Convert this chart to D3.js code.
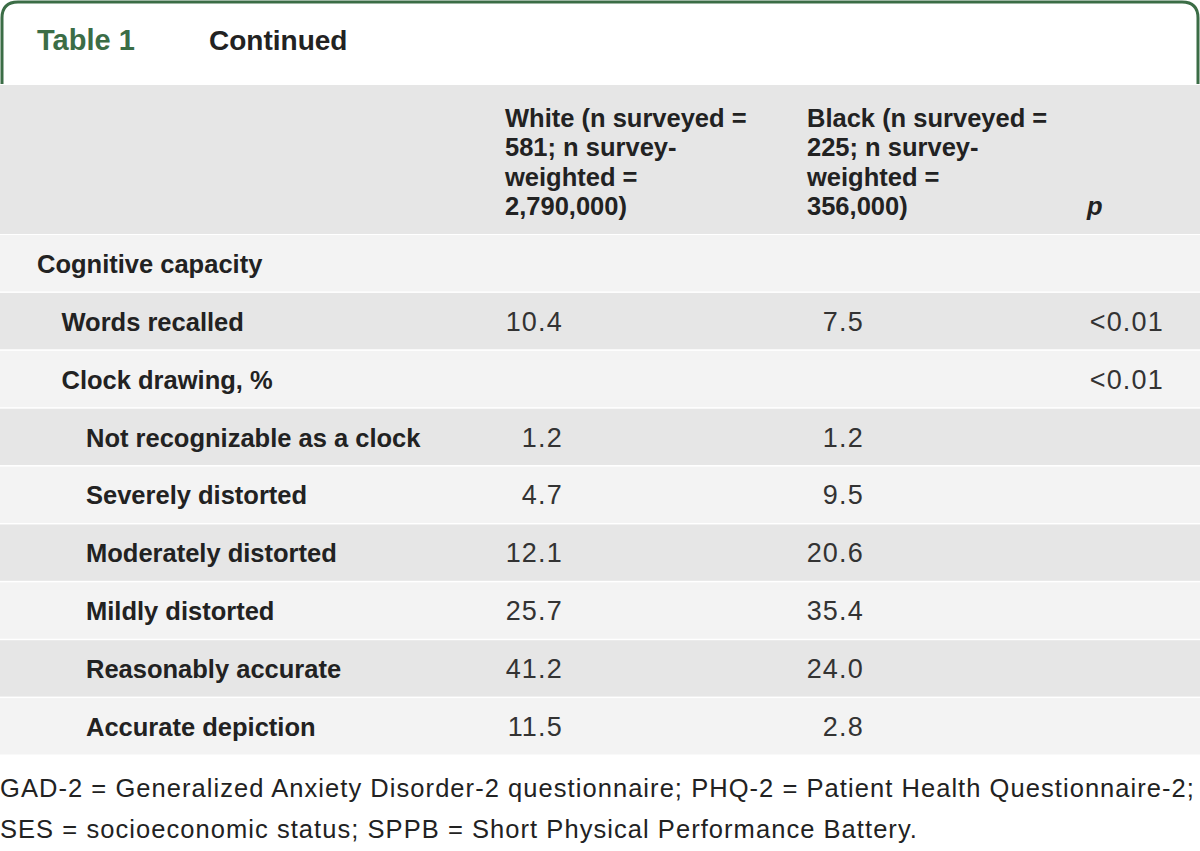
<!DOCTYPE html>
<html>
<head>
<meta charset="utf-8">
<script src="https://cdn.jsdelivr.net/npm/d3@7"></script>
<style>
    body { margin: 0; background: #fff; }
    svg { display: block; }
    text { font-family: "Liberation Sans", Arial, sans-serif; }
</style>
</head>
<body>
<svg id="chart" width="1200" height="851"></svg>
<script>
/* Table 1 (continued) - cognitive capacity by race */

const title = "Table 1";
const subtitle = "Continued";

const headerWhite = ["White (n surveyed =", "581; n survey-", "weighted =", "2,790,000)"];
const headerBlack = ["Black (n surveyed =", "225; n survey-", "weighted =", "356,000)"];
const headerP = "p";

const rowLabels = [
    "Cognitive capacity",
    "Words recalled",
    "Clock drawing, %",
    "Not recognizable as a clock",
    "Severely distorted",
    "Moderately distorted",
    "Mildly distorted",
    "Reasonably accurate",
    "Accurate depiction"
];
const rowLevels = [0, 1, 1, 2, 2, 2, 2, 2, 2];
const whiteValues = [null, 10.4, null, 1.2, 4.7, 12.1, 25.7, 41.2, 11.5];
const blackValues = [null, 7.5, null, 1.2, 9.5, 20.6, 35.4, 24.0, 2.8];
const pValues = ["", "<0.01", "<0.01", "", "", "", "", "", ""];

const footnotes = [
    "GAD-2 = Generalized Anxiety Disorder-2 questionnaire; PHQ-2 = Patient Health Questionnaire-2;",
    "SES = socioeconomic status; SPPB = Short Physical Performance Battery."
];

const width = 1200;
const svg = d3.select("#chart");

const green = "#3b6d46";
const ink = "#222";
const dark = "#e6e6e6";
const light = "#f3f3f3";

// frame with rounded top corners
svg.append("path")
    .attr("d", "M2,84 V18 Q2,2 18,2 H1182 Q1198,2 1198,18 V84")
    .attr("fill", "none")
    .attr("stroke", green)
    .attr("stroke-width", 3);

svg.append("text")
    .attr("x", 37).attr("y", 50)
    .attr("font-size", 29).attr("font-weight", 700)
    .attr("fill", green)
    .text(title);

svg.append("text")
    .attr("x", 209).attr("y", 50)
    .attr("font-size", 28).attr("font-weight", 700)
    .attr("fill", ink)
    .text(subtitle);

// header band
svg.append("rect")
    .attr("x", 0).attr("y", 85)
    .attr("width", width).attr("height", 149)
    .attr("fill", dark);

const headerLine = d3.scaleLinear().domain([0, 3]).range([127, 215]);

function headerBlock(lines, x) {
    svg.append("g").selectAll("text")
        .data(lines)
        .join("text")
        .attr("x", x)
        .attr("y", (d, i) => headerLine(i))
        .attr("font-size", 25.5).attr("font-weight", 700)
        .attr("fill", ink)
        .text(d => d);
}
headerBlock(headerWhite, 505);
headerBlock(headerBlack, 807);

svg.append("text")
    .attr("x", 1087).attr("y", 215)
    .attr("font-size", 25.5).attr("font-weight", 700)
    .attr("font-style", "italic")
    .attr("fill", ink)
    .text(headerP);

// body rows
const y = d3.scaleBand()
    .domain(d3.range(rowLabels.length))
    .range([235, 756]);

const indent = d3.scaleLinear().domain([0, 2]).range([37, 86]);

const rows = svg.append("g").selectAll("g")
    .data(rowLabels.map((label, i) => ({
        label,
        level: rowLevels[i],
        white: whiteValues[i],
        black: blackValues[i],
        p: pValues[i]
    })))
    .join("g")
    .attr("transform", (d, i) => `translate(0,${y(i)})`);

rows.append("rect")
    .attr("x", 0).attr("y", 0)
    .attr("width", width)
    .attr("height", y.bandwidth() - 1.5)
    .attr("fill", (d, i) => (i % 2 === 0 ? light : dark));

const baseline = y.bandwidth() / 2 + 9;

rows.append("text")
    .attr("x", d => indent(d.level))
    .attr("y", baseline)
    .attr("font-size", 25.5).attr("font-weight", 700)
    .attr("fill", ink)
    .text(d => d.label);

const fmt = d3.format(".1f");

function numberCell(x, value) {
    rows.append("text")
        .attr("x", x)
        .attr("y", baseline)
        .attr("text-anchor", "end")
        .attr("font-size", 27)
        .attr("letter-spacing", 1.2)
        .attr("fill", "#333")
        .text(value);
}
numberCell(563, d => (d.white === null ? "" : fmt(d.white)));
numberCell(864, d => (d.black === null ? "" : fmt(d.black)));
numberCell(1164, d => d.p);

// footnote, stretched to the full width like the original
const notes = svg.append("g").selectAll("text")
    .data(footnotes)
    .join("text")
    .attr("x", 0)
    .attr("y", (d, i) => 797 + i * 41)
    .attr("font-size", 25.5)
    .attr("fill", ink)
    .text(d => d);

const firstLen = notes.node().getComputedTextLength();
const spacing = (1195 - firstLen) / footnotes[0].length;
notes.attr("letter-spacing", spacing);
</script>
</body>
</html>
